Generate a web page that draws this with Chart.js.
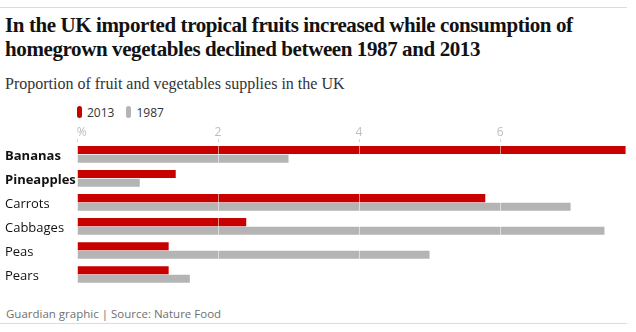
<!DOCTYPE html>
<html>
<head>
<meta charset="utf-8">
<script src="https://cdn.jsdelivr.net/npm/chart.js@4"></script>
<style>
  html, body { margin: 0; padding: 0; background: #fff; }
  body { width: 636px; height: 332px; position: relative; overflow: hidden; }
  .rule { position: absolute; left: 0; width: 627px; height: 1px; background: #dcdcdc; }
  #title { position: absolute; left: 5px; top: 13px; width: 626px; font-family: "Liberation Serif", serif; font-weight: bold; font-size: 21px; line-height: 24px; letter-spacing: -0.4px; color: #121212; }
  #subtitle { position: absolute; left: 5px; top: 74px; font-family: "Liberation Serif", serif; font-size: 16px; line-height: 20px; color: #333; }
  #legend { position: absolute; left: 77px; top: 105px; height: 14px; display: flex; align-items: center; font-family: "Open Sans", sans-serif; font-size: 12px; color: #333; }
  #legend .item { display: flex; align-items: center; margin-right: 12px; }
  #legend .sw { width: 5px; height: 12px; border-radius: 3px; margin-right: 5px; }
  #footer { position: absolute; left: 6px; top: 307px; font-family: "Open Sans", sans-serif; font-size: 11.5px; line-height: 14px; color: #707070; }
  #wrap { position: absolute; left: 0; top: 120px; width: 636px; height: 180px; }
</style>
</head>
<body>
<div class="rule" style="top:7px"></div>
<div id="title">In the UK imported tropical fruits increased while consumption of homegrown vegetables declined between 1987 and 2013</div>
<div id="subtitle">Proportion of fruit and vegetables supplies in the UK</div>
<div id="legend"></div>
<div id="wrap"><canvas id="c" width="636" height="180"></canvas></div>
<div id="footer">Guardian graphic | Source: Nature Food</div>
<div class="rule" style="top:323px"></div>
<script>
// Data
const categories = ['Bananas', 'Pineapples', 'Carrots', 'Cabbages', 'Peas', 'Pears'];
const boldCategories = ['Bananas', 'Pineapples'];
const seriesNames = ['2013', '1987'];
const values2013 = [7.78, 1.40, 5.79, 2.40, 1.30, 1.30];
const values1987 = [3.00, 0.89, 7.00, 7.48, 5.00, 1.60];
const xTicks = [0, 2, 4, 6];
const xMax = 7.8;
const colors = ['#c70000', '#b4b4b4'];

// Legend
const legend = document.getElementById('legend');
seriesNames.forEach((name, i) => {
  const item = document.createElement('div');
  item.className = 'item';
  const sw = document.createElement('span');
  sw.className = 'sw';
  sw.style.background = colors[i];
  const tx = document.createElement('span');
  tx.textContent = name;
  item.appendChild(sw); item.appendChild(tx);
  legend.appendChild(item);
});

new Chart(document.getElementById('c'), {
  type: 'bar',
  data: {
    labels: categories,
    datasets: [
      { label: seriesNames[0], data: values2013, backgroundColor: colors[0] },
      { label: seriesNames[1], data: values1987, backgroundColor: colors[1] }
    ]
  },
  options: {
    indexAxis: 'y',
    responsive: false,
    animation: false,
    devicePixelRatio: 1,
    layout: { padding: { left: 5, right: 9, top: 5, bottom: 13.5 } },
    datasets: { bar: { categoryPercentage: 0.72, barPercentage: 0.93 } },
    plugins: { legend: { display: false }, tooltip: { enabled: false } },
    scales: {
      x: {
        position: 'top',
        min: 0,
        max: xMax,
        afterBuildTicks: (scale) => { scale.ticks = xTicks.map(v => ({ value: v })); },
        border: { display: false },
        grid: { color: 'rgba(255,255,255,0.55)', z: 1, tickColor: '#cfcfcf', tickLength: 3, drawTicks: true },
        ticks: {
          padding: 0,
          color: '#bdbdbd',
          labelOffset: 0,
          font: { family: 'Open Sans', size: 12 },
          callback: (v) => v === 0 ? '   %' : String(v)
        }
      },
      y: {
        border: { display: false },
        grid: { display: false },
        afterFit: (scale) => { scale.width = 72; },
        ticks: {
          crossAlign: 'far',
          padding: 0,
          labelOffset: 1.5,
          color: '#121212',
          font: (ctx) => ({ family: 'Open Sans', size: 13, weight: boldCategories.includes(categories[ctx.index]) ? 'bold' : 'normal' })
        }
      }
    }
  }
});
</script>
</body>
</html>
